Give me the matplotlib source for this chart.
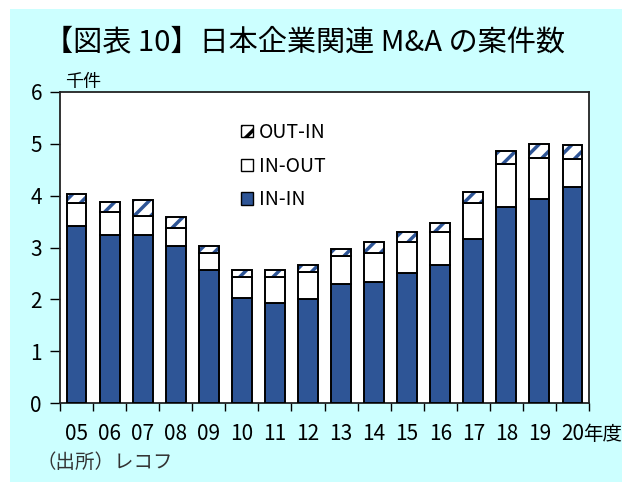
import matplotlib.pyplot as plt
from matplotlib.patches import Rectangle, Patch
import numpy as np

plt.rcParams['font.family'] = ['Noto Sans CJK JP', 'DejaVu Sans']

years = ['05', '06', '07', '08', '09', '10', '11', '12',
         '13', '14', '15', '16', '17', '18', '19', '20']
in_in = [3.41, 3.25, 3.25, 3.03, 2.56, 2.03, 1.93, 2.01,
         2.30, 2.34, 2.50, 2.66, 3.16, 3.78, 3.94, 4.17]
in_out = [0.44, 0.43, 0.36, 0.35, 0.34, 0.41, 0.50, 0.52,
          0.54, 0.55, 0.60, 0.63, 0.69, 0.83, 0.79, 0.53]
out_in = [0.19, 0.20, 0.31, 0.21, 0.13, 0.13, 0.14, 0.14,
          0.13, 0.21, 0.19, 0.19, 0.23, 0.25, 0.26, 0.27]

blue = '#2E5596'
cyan = '#CCFFFF'

fig = plt.figure(figsize=(6.22, 4.82), dpi=100)
fig.patch.set_facecolor('white')
# cyan panel with a thin white margin at top and left
fig.patches.append(Rectangle((10 / 622, 0), 1, 1 - 9 / 482, transform=fig.transFigure,
                             facecolor=cyan, edgecolor='none', zorder=-10))

ax = fig.add_axes([60 / 622, 1 - 403 / 482, 529 / 622, 311 / 482])
ax.set_facecolor('white')

x = np.arange(len(years))
w = 0.6
bottom2 = np.array(in_in)
bottom3 = bottom2 + np.array(in_out)

ax.bar(x, in_in, w, color=blue, edgecolor='black', linewidth=1.4, zorder=3)
ax.bar(x, in_out, w, bottom=bottom2, color='white', edgecolor='black', linewidth=1.4, zorder=3)
# OUT-IN: white with blue diagonal stripes, black outline drawn on top
plt.rcParams['hatch.linewidth'] = 2.5
ax.bar(x, out_in, w, bottom=bottom3, color='white', edgecolor=blue, hatch='//',
       linewidth=0, zorder=3)
ax.bar(x, out_in, w, bottom=bottom3, color='none', edgecolor='black', linewidth=1.4, zorder=4)

ax.set_xlim(-0.5, len(years) - 0.5)
ax.set_ylim(0, 6)
ax.set_yticks(range(0, 7))
ax.set_xticks(np.arange(-0.5, len(years), 1))
ax.set_xticklabels([])
ax.tick_params(axis='x', direction='out', length=6, width=1)
ax.tick_params(axis='y', direction='out', length=7, width=1, labelsize=15, pad=6)
for i, lab in enumerate(years):
    ax.text(i, -0.6, lab, ha='center', va='center', fontsize=15)
ax.text(len(years) - 1 + 0.33, -0.6, '年度', ha='left', va='center', fontsize=14)

for s in ax.spines.values():
    s.set_linewidth(1.3)
    s.set_color('#222222')

ax.text(-0.35, 6.02, '千件', ha='left', va='bottom', fontsize=13)

h_out_in = Patch(facecolor='white', edgecolor='black', hatch='//', linewidth=1)
h_in_out = Patch(facecolor='white', edgecolor='black', linewidth=1)
h_in_in = Patch(facecolor=blue, edgecolor='black', linewidth=1)
leg = ax.legend([h_out_in, h_in_out, h_in_in], ['OUT-IN', 'IN-OUT', 'IN-IN'],
                loc='upper left', bbox_to_anchor=(0.31, 0.96), frameon=False,
                fontsize=14, handlelength=0.6, handleheight=0.6, handletextpad=0.3,
                labelspacing=0.65)

fig.text(44 / 622, 1 - 42 / 482, '【図表 10】日本企業関連 M&A の案件数', ha='left', va='center',
         fontsize=21)
fig.text(36 / 622, 1 - 462 / 482, '（出所）レコフ', ha='left', va='center', fontsize=14,
         color='#333333')

fig.savefig('out.png', dpi=100, facecolor=fig.get_facecolor())
